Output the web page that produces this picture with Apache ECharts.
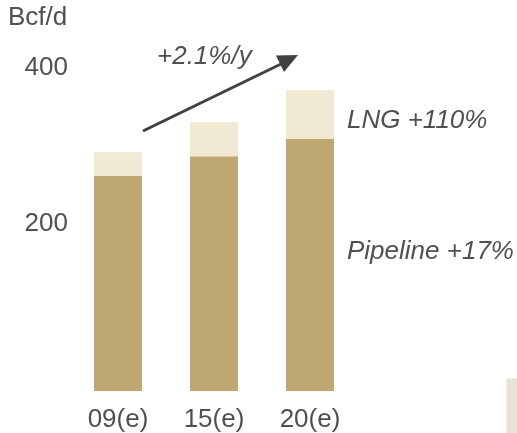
<!DOCTYPE html>
<html>
<head>
<meta charset="utf-8">
<script src="https://cdn.jsdelivr.net/npm/echarts@6/dist/echarts.min.js"></script>
<style>
  html, body { margin: 0; padding: 0; background: #fff; }
  #chart { width: 517px; height: 433px; }
</style>
</head>
<body>
<div id="chart"></div>
<script>
// Gas supply by route, Bcf/d
const categories = ['09(e)', '15(e)', '20(e)'];
const pipeline = [276, 301, 323];
const lng = [30, 44, 63];
const yTicks = [200, 400];

const FONT = 'Liberation Sans, Arial, sans-serif';
const TEXT = '#505050';
const FS = 26;

const chart = echarts.init(document.getElementById('chart'), null, { renderer: 'canvas' });

chart.setOption({
  animation: false,
  grid: { left: 70, width: 288, top: 79, bottom: 42 },
  xAxis: {
    type: 'category',
    data: categories,
    axisLine: { show: false },
    axisTick: { show: false },
    axisLabel: { color: TEXT, fontSize: FS, fontFamily: FONT, margin: 16 }
  },
  yAxis: {
    type: 'value',
    min: 0,
    max: 400,
    interval: 200,
    name: 'Bcf/d',
    nameLocation: 'end',
    nameGap: 61,
    nameTextStyle: {
      color: TEXT, fontSize: FS, fontFamily: FONT,
      align: 'left', verticalAlign: 'middle', padding: [0, 0, 0, -62]
    },
    axisLine: { show: false },
    axisTick: { show: false },
    splitLine: { show: false },
    axisLabel: {
      color: TEXT, fontSize: FS, fontFamily: FONT, margin: 2,
      verticalAlign: 'bottom',
      lineHeight: 22,
      formatter: v => (yTicks.indexOf(v) >= 0 ? String(v) : '')
    }
  },
  series: [
    {
      name: 'Pipeline',
      type: 'bar',
      stack: 'supply',
      barWidth: 48,
      itemStyle: { color: '#bfa771' },
      data: pipeline
    },
    {
      name: 'LNG',
      type: 'bar',
      stack: 'supply',
      barWidth: 48,
      itemStyle: { color: '#f2e9d3' },
      data: lng
    }
  ],
  graphic: [
    // growth arrow
    {
      type: 'line',
      shape: { x1: 143, y1: 131, x2: 281, y2: 64 },
      style: { stroke: '#404040', lineWidth: 3 }
    },
    {
      type: 'polygon',
      shape: { points: [[298, 55], [284, 72], [276, 55.5]] },
      style: { fill: '#404040' }
    },
    {
      type: 'text',
      style: { x: 157, y: 57, text: '+2.1%/y', fill: TEXT, font: 'italic ' + FS + 'px ' + FONT, verticalAlign: 'middle' }
    },
    {
      type: 'text',
      style: { x: 347, y: 121, text: 'LNG +110%', fill: TEXT, font: 'italic ' + FS + 'px ' + FONT, verticalAlign: 'middle' }
    },
    {
      type: 'text',
      style: { x: 347, y: 252, text: 'Pipeline +17%', fill: TEXT, font: 'italic ' + FS + 'px ' + FONT, verticalAlign: 'middle' }
    },
    // small swatch at the lower right edge
    {
      type: 'rect',
      shape: { x: 506.5, y: 378.5, width: 12, height: 56 },
      style: { fill: '#e7e3d7', stroke: '#f1eee6', lineWidth: 1 }
    }
  ]
});
</script>
</body>
</html>
